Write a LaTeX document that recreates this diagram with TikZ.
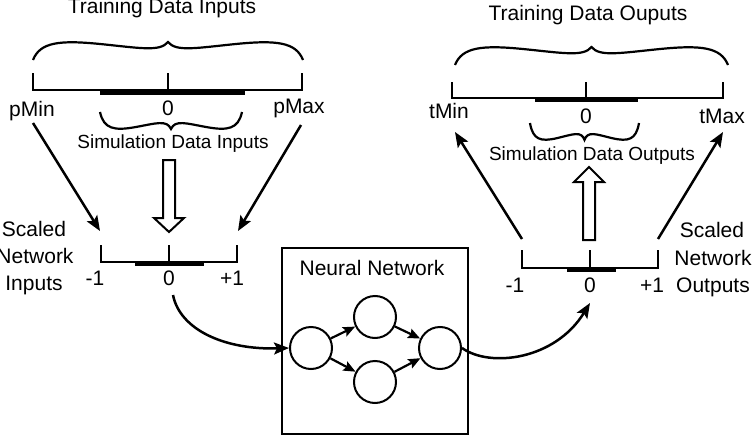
\documentclass[tikz,border=0pt]{standalone}
\usepackage{fontspec}
\setmainfont{Liberation Sans}
\usetikzlibrary{arrows.meta}
\newcommand\mybrace[4]{% center x, end y, half width, height (negative = tip down)
  \begin{scope}[shift={(#1,#2)},xscale=#3,yscale=#4]
    \draw[bline] (-1,0) .. controls (-0.948,-1.0) and (-0.8,-1.11) .. (-0.504,-0.89)
      .. controls (-0.207,-0.667) and (-0.059,-0.444) .. (0,-1)
      .. controls (0.059,-0.444) and (0.207,-0.667) .. (0.504,-0.89)
      .. controls (0.8,-1.11) and (0.948,-1.0) .. (1,0);
  \end{scope}}
\begin{document}
\begin{tikzpicture}[x=1pt,y=-1pt,
  lbl/.style={font=\fontsize{21}{27}\selectfont, inner sep=0pt, anchor=base},
  sim/.style={font=\fontsize{19}{23}\selectfont, inner sep=0pt, anchor=base},
  axisline/.style={line width=2.2pt},
  bline/.style={line width=2.2pt},
  conn/.style={line width=2.5pt, -{Stealth[length=15pt,width=12pt,inset=3pt]}},
  nconn/.style={line width=2.2pt, -{Stealth[length=12pt,width=10pt,inset=2pt]}},
  neuron/.style={circle, draw, line width=2pt, minimum size=42pt, inner sep=0pt},
  hollow/.style={draw, line width=2pt, fill=white, line join=miter},
  nnbox/.style={draw, line width=2.2pt, minimum width=186pt, minimum height=186pt, inner sep=0pt},
]
\useasboundingbox (0,0) rectangle (756,442);

% ---------- titles ----------
\node[lbl] (tin) at (162,13) {Training Data Inputs};
\node[lbl] (tout) at (588,20) {Training Data Ouputs};

% ---------- training input axis ----------
\mybrace{168}{60}{135}{18}
\draw[axisline] (33,73) -- (33,90) -- (302,90) -- (302,73);
\draw[axisline] (168,73) -- (168,90);
\fill (100,89) rectangle (245,95);
\node[lbl] (pmin) at (32,116) {pMin};
\node[lbl] (zin) at (168,115) {0};
\node[lbl] (pmax) at (299,113) {pMax};
\mybrace{171}{112}{71}{-17}
\node[sim] (simin) at (173,148) {Simulation Data Inputs};

% ---------- training output axis ----------
\mybrace{591.5}{65}{136.5}{18}
\draw[axisline] (452,82) -- (452,98) -- (723,98) -- (723,82);
\draw[axisline] (586,82) -- (586,98);
\fill (535,97) rectangle (638,102);
\node[lbl] (tmin) at (449,118) {tMin};
\node[lbl] (zout) at (586,123) {0};
\node[lbl] (tmax) at (722,123) {tMax};
\mybrace{584.5}{123}{54.5}{-17}
\node[sim] (simout) at (592,160) {Simulation Data Outputs};

% ---------- hollow arrows ----------
\draw[hollow] (163,160) -- (175,160) -- (175,218) -- (184,218) -- (169,232) -- (154,218) -- (163,218) -- cycle;
\draw[hollow] (583,240) -- (595,240) -- (595,182) -- (604,182) -- (589,167) -- (574,182) -- (583,182) -- cycle;

% ---------- scaled input axis ----------
\draw[axisline] (101,245) -- (101,262) -- (237,262) -- (237,245);
\draw[axisline] (169,245) -- (169,262);
\fill (135,261) rectangle (204,266);
\node[lbl] (min1) at (95,285) {-1};
\node[lbl] (sz1) at (169,285) {0};
\node[lbl] (pl1) at (232,285) {+1};
\node[lbl] (si1) at (34,236) {Scaled};
\node[lbl] (si2) at (35,263) {Network};
\node[lbl] (si3) at (34,290) {Inputs};

% ---------- scaled output axis ----------
\draw[axisline] (522,250) -- (522,268) -- (658,268) -- (658,250);
\draw[axisline] (590,250) -- (590,268);
\fill (567,267) rectangle (616,272);
\node[lbl] (min2) at (515,292) {-1};
\node[lbl] (sz2) at (590,292) {0};
\node[lbl] (pl2) at (652,292) {+1};
\node[lbl] (so1) at (712,237) {Scaled};
\node[lbl] (so2) at (713,265) {Network};
\node[lbl] (so3) at (713,292) {Outputs};

% ---------- mapping arrows ----------
\coordinate (pminS) at (33,123);
\coordinate (pminE) at (100,231);
\coordinate (pmaxS) at (301,125);
\coordinate (pmaxE) at (238,231);
\coordinate (tminS) at (522,239);
\coordinate (tminE) at (455,132);
\coordinate (tmaxS) at (658,239);
\coordinate (tmaxE) at (723,132);
\draw[conn] (pminS) -- (pminE);
\draw[conn] (pmaxS) -- (pmaxE);
\draw[conn] (tminS) -- (tminE);
\draw[conn] (tmaxS) -- (tmaxE);

% ---------- neural network ----------
\node[nnbox] (box) at (375,341) {};
\node[lbl] (nnlbl) at (372,275) {Neural Network};
\node[neuron] (n1) at (311,348) {};
\node[neuron] (n2) at (375,317) {};
\node[neuron] (n3) at (375,382) {};
\node[neuron] (n4) at (440,348) {};
\draw[nconn] (n1) -- (n2);
\draw[nconn] (n1) -- (n3);
\draw[nconn] (n2) -- (n4);
\draw[nconn] (n3) -- (n4);

% ---------- curved connectors ----------
\coordinate (inS) at (173,295);
\coordinate (outE) at (590,303);
\draw[conn] (inS) .. controls (180,330) and (225,350) .. (n1.west);
\draw[conn] (n4.east) .. controls (490,368) and (555,360) .. (outE);
\end{tikzpicture}
\end{document}
